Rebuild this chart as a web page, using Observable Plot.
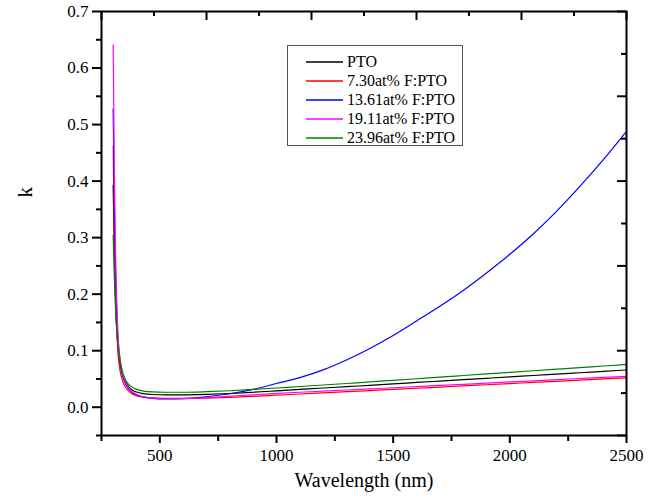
<!DOCTYPE html>
<html><head><meta charset="utf-8">
<script src="https://cdn.jsdelivr.net/npm/d3@7"></script>
<script src="https://cdn.jsdelivr.net/npm/@observablehq/plot@0.6"></script>
<style>
body{margin:0;background:#fff;}
#wrap{position:relative;width:665px;height:504px;}
#legend{position:absolute;left:287px;top:45px;width:174px;height:99px;border:1.5px solid #555;background:#fff;font-family:"Liberation Serif",serif;font-size:16px;color:#000;}
.row{position:absolute;left:0;height:19px;display:flex;align-items:center;white-space:nowrap;}
.sw{display:inline-block;width:37px;margin-left:18px;margin-right:4px;}
</style></head><body><div id="wrap"></div>
<script>
const wavelength = [300, 305, 310, 320, 330, 340, 350, 365, 380, 400, 430, 470, 520, 600, 700, 800, 900, 1000, 1100, 1200, 1300, 1400, 1500, 1600, 1700, 1800, 1900, 2000, 2100, 2200, 2300, 2400, 2500];
const kPTO    = [0.393, 0.27, 0.19, 0.11, 0.076, 0.058, 0.047, 0.037, 0.031, 0.027, 0.024, 0.0225, 0.022, 0.022, 0.0228, 0.0243, 0.0265, 0.029, 0.0315, 0.034, 0.0363, 0.0388, 0.0413, 0.0438, 0.0462, 0.0487, 0.0512, 0.0537, 0.0561, 0.0586, 0.061, 0.0635, 0.066];
const k730    = [0.462, 0.30, 0.20, 0.10, 0.064, 0.047, 0.037, 0.029, 0.024, 0.0205, 0.018, 0.0165, 0.0157, 0.0155, 0.0162, 0.0175, 0.0193, 0.0213, 0.0234, 0.0254, 0.0275, 0.0295, 0.0316, 0.0336, 0.0357, 0.0377, 0.0398, 0.0418, 0.0439, 0.0459, 0.048, 0.050, 0.052];
const k1361   = [0.528, 0.36, 0.245, 0.125, 0.08, 0.057, 0.044, 0.033, 0.027, 0.022, 0.018, 0.0158, 0.0148, 0.0152, 0.0185, 0.0238, 0.0315, 0.042, 0.0525, 0.066, 0.0835, 0.104, 0.127, 0.1525, 0.1785, 0.2065, 0.2375, 0.2705, 0.3065, 0.3465, 0.3905, 0.4375, 0.488];
const k1911   = [0.641, 0.42, 0.28, 0.135, 0.085, 0.061, 0.047, 0.035, 0.028, 0.0225, 0.0185, 0.0162, 0.015, 0.0152, 0.017, 0.0195, 0.022, 0.0244, 0.0265, 0.0285, 0.0305, 0.0325, 0.0345, 0.0366, 0.0386, 0.0406, 0.0427, 0.0447, 0.0467, 0.0488, 0.0508, 0.0528, 0.0545];
const k2396   = [0.304, 0.23, 0.175, 0.112, 0.08, 0.062, 0.051, 0.041, 0.036, 0.0315, 0.0285, 0.027, 0.0265, 0.0265, 0.0275, 0.0292, 0.0315, 0.034, 0.0367, 0.0393, 0.042, 0.0448, 0.0476, 0.0504, 0.0533, 0.0561, 0.0589, 0.0617, 0.0645, 0.0673, 0.0701, 0.0729, 0.0757];

const seriesNames  = ["PTO", "7.30at% F:PTO", "13.61at% F:PTO", "19.11at% F:PTO", "23.96at% F:PTO"];
const seriesValues = [kPTO, k730, k1361, k1911, k2396];
const seriesColors = ["#000000", "#ff0000", "#0000ff", "#ff00ff", "#008000"];

const xMajor = [500, 1000, 1500, 2000, 2500];
const xMinor = [250, 750, 1250, 1750, 2250];
const yMajor = [0.0, 0.1, 0.2, 0.3, 0.4, 0.5, 0.6, 0.7];
const yMinor = [-0.05, 0.05, 0.15, 0.25, 0.35, 0.45, 0.55, 0.65];
const topMajor = [250, 700, 1150, 1600, 2050, 2500];
const topMinor = [475, 925, 1375, 1825, 2275];
const rightMajor = [-0.05, 0.1, 0.25, 0.4, 0.55, 0.7];
const rightMinor = [0.025, 0.175, 0.325, 0.475, 0.625];

const xLabel = "Wavelength (nm)";
const yLabel = "k";

const W = 665, H = 504;
const mt = 11, mr = 39, mb = 69, ml = 101;
const iw = W - ml - mr, ih = H - mt - mb;

const lineMarks = seriesValues.map((vals, i) =>
  Plot.line(wavelength.map((w, j) => ({w, k: vals[j]})), {
    x: "w", y: "k", stroke: seriesColors[i], strokeWidth: 1.2, curve: "monotone-x"
  })
);

const chart = Plot.plot({
  width: W, height: H,
  marginTop: mt, marginRight: mr, marginBottom: mb, marginLeft: ml,
  style: {fontFamily: "'Liberation Serif', serif", fontSize: "17px", background: "#fff", color: "#000"},
  x: {domain: [250, 2500]},
  y: {domain: [-0.05, 0.7]},
  marks: [
    ...lineMarks,
    Plot.axisY({ticks: yMajor, tickSize: 9, tickPadding: 4, tickFormat: d3.format(".1f"), strokeWidth: 2, label: null, fontSize: 17}),
    Plot.axisY({ticks: yMinor, tickSize: 5, tickFormat: () => "", strokeWidth: 2, label: null}),
    Plot.axisX({ticks: xMajor, tickSize: 8, tickPadding: 5, tickFormat: d3.format("d"), strokeWidth: 2, label: null, fontSize: 17}),
    Plot.axisX({ticks: xMinor, tickSize: 6, tickFormat: () => "", strokeWidth: 2, label: null}),
    Plot.ruleX(topMajor, {x: d => d, insetBottom: ih - 9, strokeWidth: 2}),
    Plot.ruleX(topMinor, {x: d => d, insetBottom: ih - 5, strokeWidth: 2}),
    Plot.ruleY(rightMajor, {y: d => d, insetLeft: iw - 9, strokeWidth: 2}),
    Plot.ruleY(rightMinor, {y: d => d, insetLeft: iw - 5, strokeWidth: 2}),
    Plot.frame({stroke: "#000", strokeWidth: 2}),
    Plot.text([xLabel], {text: d => d, frameAnchor: "bottom", dy: 51, fontSize: 20}),
    Plot.text([yLabel], {text: d => d, frameAnchor: "left", dx: -76, dy: -26, rotate: -90, fontSize: 21})
  ]
});

const wrap = document.getElementById("wrap");
wrap.appendChild(chart);

const legend = document.createElement("div");
legend.id = "legend";
const rowTops = [6, 25, 44, 63, 82];
const svgNS = "http://www.w3.org/2000/svg";
seriesNames.forEach((name, i) => {
  const row = document.createElement("div");
  row.className = "row";
  row.style.top = rowTops[i] + "px";
  const sw = document.createElementNS(svgNS, "svg");
  sw.setAttribute("class", "sw");
  sw.setAttribute("width", "37");
  sw.setAttribute("height", "4");
  const ln = document.createElementNS(svgNS, "line");
  ln.setAttribute("x1", "0"); ln.setAttribute("x2", "37");
  ln.setAttribute("y1", "2"); ln.setAttribute("y2", "2");
  ln.setAttribute("stroke", seriesColors[i]);
  ln.setAttribute("stroke-width", "1.3");
  sw.appendChild(ln);
  const t = document.createElement("span");
  t.textContent = name;
  row.appendChild(sw); row.appendChild(t);
  legend.appendChild(row);
});
wrap.appendChild(legend);
</script>
</body></html>
